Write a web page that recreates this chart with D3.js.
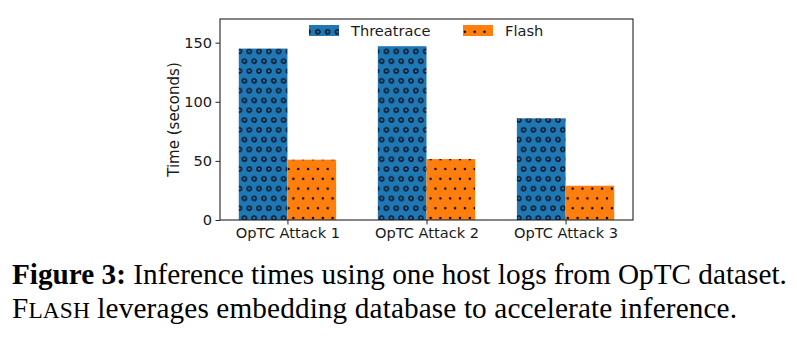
<!DOCTYPE html>
<html><head><meta charset="utf-8">
<script src="https://cdn.jsdelivr.net/npm/d3@7"></script>
<style>body{margin:0;background:#fff} svg{display:block}</style>
</head><body><svg id="c" width="797" height="341"></svg>
<script>
// ---- data ----
const categories = ["OpTC Attack 1", "OpTC Attack 2", "OpTC Attack 3"];
const seriesNames = ["Threatrace", "Flash"];
const threatraceValues = [145, 147, 86];
const flashValues = [51, 51.5, 29];
const yTickValues = [0, 50, 100, 150];
const yLabel = "Time (seconds)";
const captionBold = "Figure 3:";
const captionLine1 = " Inference times using one host logs from OpTC dataset.";
const captionLine2Cap = "F";
const captionLine2Small = "LASH";
const captionLine2Rest = " leverages embedding database to accelerate inference.";

// ---- layout ----
const svg = d3.select("#c");
const L = 220, R = 633, T = 19, B = 220;
const barW = 0.35;
const x = d3.scaleLinear().domain([-0.485, 2.485]).range([L, R]);
const y = d3.scaleLinear().domain([0, 170]).range([B, T]);
const colors = ["#1f77b4", "#ff7f0e"];
const font = "'DejaVu Sans', sans-serif";
const fs = 14.6;

// hatch patterns (matplotlib-like staggered lattice)
const d = 9.8;
const defs = svg.append("defs");
function makePattern(id, color, kind) {
  const p = defs.append("pattern").attr("id", id)
    .attr("patternUnits", "userSpaceOnUse")
    .attr("x", 4.3).attr("y", 12.2)
    .attr("width", d).attr("height", 2 * d);
  p.append("rect").attr("width", d).attr("height", 2 * d).attr("fill", color);
  const pts = [[0,0],[d,0],[0,2*d],[d,2*d],[d/2,d]];
  pts.forEach(([cx, cy]) => {
    const c = p.append("circle").attr("cx", cx).attr("cy", cy);
    if (kind === "o") c.attr("r", 2.1).attr("fill", "none").attr("stroke", "#0a0a14").attr("stroke-width", 1.3);
    else c.attr("r", 1.25).attr("fill", "#000");
  });
}
makePattern("hatchO", colors[0], "o");
makePattern("hatchDot", colors[1], ".");
const fills = ["url(#hatchO)", "url(#hatchDot)"];

// bars
const series = [threatraceValues, flashValues];
series.forEach((vals, si) => {
  svg.append("g").selectAll("rect").data(vals).join("rect")
    .attr("x", (v, i) => x(i + (si === 0 ? -barW : 0)))
    .attr("width", x(barW) - x(0))
    .attr("y", v => y(v))
    .attr("height", v => y(0) - y(v))
    .attr("fill", fills[si]);
});

// axes
const yAxis = d3.axisLeft(y).tickValues(yTickValues).tickSize(4.5).tickPadding(3.5);
const gy = svg.append("g").attr("transform", `translate(${L},0)`).call(yAxis);
const xAxis = d3.axisBottom(x).tickValues([0, 1, 2]).tickFormat(i => categories[i]).tickSize(4.5).tickPadding(3);
const gx = svg.append("g").attr("transform", `translate(0,${B})`).call(xAxis);
[gx, gy].forEach(g => {
  g.select(".domain").remove();
  g.selectAll("line").attr("stroke", "#222").attr("stroke-width", 1);
  g.selectAll("text").attr("font-family", font).attr("font-size", fs).attr("fill", "#1a1a1a");
});

// frame
svg.append("rect").attr("x", L).attr("y", T).attr("width", R - L).attr("height", B - T)
  .attr("fill", "none").attr("stroke", "#222").attr("stroke-width", 1.1);

// y label
svg.append("text").attr("transform", `translate(179,119.5) rotate(-90)`)
  .attr("text-anchor", "middle").attr("font-family", font).attr("font-size", 15)
  .attr("fill", "#1a1a1a").text(yLabel);

// legend
const legX = [309, 463];
seriesNames.forEach((name, i) => {
  svg.append("rect").attr("x", legX[i]).attr("y", 25).attr("width", 30).attr("height", 11)
    .attr("fill", fills[i]);
  svg.append("text").attr("x", legX[i] + 42).attr("y", 30.5).attr("dy", "0.35em")
    .attr("font-family", font).attr("font-size", fs).attr("fill", "#1a1a1a").text(name);
});

// caption
const serif = "'Liberation Serif', 'Times New Roman', serif";
const cap1 = svg.append("text").attr("x", 12).attr("y", 284)
  .attr("font-family", serif).attr("font-size", 25).attr("fill", "#000");
cap1.append("tspan").attr("font-weight", "bold").text(captionBold);
cap1.append("tspan").text(captionLine1);
const w1 = cap1.node().getComputedTextLength();
const cfs = 25 * 775 / w1;
cap1.attr("font-size", cfs);
const cap2 = svg.append("text").attr("x", 12).attr("y", 318)
  .attr("font-family", serif).attr("font-size", cfs).attr("fill", "#000");
cap2.append("tspan").text(captionLine2Cap);
cap2.append("tspan").attr("font-size", cfs * 0.8).text(captionLine2Small);
cap2.append("tspan").text(captionLine2Rest);
cap2.attr("textLength", 725).attr("lengthAdjust", "spacing");
</script>
</body></html>
